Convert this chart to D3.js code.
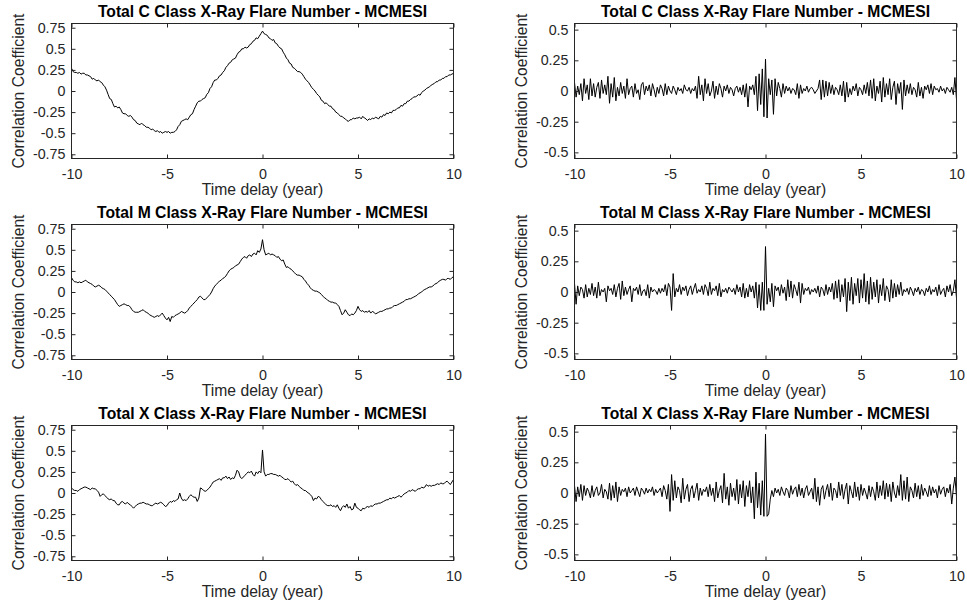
<!DOCTYPE html>
<html><head><meta charset="utf-8">
<script src="https://cdn.jsdelivr.net/npm/d3@7"></script>
<style>body{margin:0;background:#fff}svg{display:block}</style>
</head><body>
<svg id="chart" width="967" height="610"></svg>
<script>
// ---------- data ----------
const lagStartYear = -10;          // first lag (years)
const lagStepYear = 1 / 12;        // monthly lags
const xTicks = [-10, -5, 0, 5, 10];
const yTicksLeft = [-0.75, -0.5, -0.25, 0, 0.25, 0.5, 0.75];
const yTicksRight = [-0.5, -0.25, 0, 0.25, 0.5];
const yDomainLeft = [-0.8, 0.8];
const yDomainRight = [-0.55, 0.55];
const titles = [
  "Total C Class X-Ray Flare Number - MCMESI",
  "Total M Class X-Ray Flare Number - MCMESI",
  "Total X Class X-Ray Flare Number - MCMESI"
];
const xLabel = "Time delay (year)";
const yLabel = "Correlation Coefficient";

// left column (cross-correlation), one value per month from -10 to +10 years
const cLeft = [
 0.27,0.23,0.22,0.22,0.21,0.22,0.20,0.21,0.21,0.19,0.19,0.18,
 0.17,0.14,0.15,0.13,0.12,0.13,0.11,0.10,0.07,0.05,0.01,-0.04,
 -0.09,-0.10,-0.15,-0.19,-0.18,-0.20,-0.19,-0.22,-0.26,-0.27,-0.27,-0.29,
 -0.30,-0.29,-0.31,-0.34,-0.35,-0.38,-0.39,-0.40,-0.38,-0.40,-0.41,-0.43,
 -0.43,-0.44,-0.46,-0.45,-0.47,-0.48,-0.47,-0.49,-0.48,-0.50,-0.49,-0.48,
 -0.49,-0.48,-0.50,-0.49,-0.49,-0.48,-0.46,-0.42,-0.40,-0.36,-0.35,-0.34,
 -0.33,-0.34,-0.31,-0.28,-0.27,-0.22,-0.18,-0.14,-0.12,-0.12,-0.10,-0.09,
 -0.08,-0.04,-0.02,0.03,0.05,0.10,0.13,0.13,0.15,0.18,0.19,0.22,
 0.24,0.28,0.30,0.33,0.34,0.37,0.38,0.39,0.43,0.46,0.47,0.50,
 0.50,0.52,0.51,0.52,0.55,0.56,0.59,0.60,0.63,0.62,0.65,0.68,
 0.71,0.68,0.67,0.66,0.63,0.62,0.60,0.61,0.57,0.56,0.53,0.51,
 0.50,0.46,0.43,0.39,0.37,0.33,0.32,0.28,0.27,0.25,0.23,0.23,
 0.22,0.20,0.17,0.14,0.12,0.10,0.07,0.04,0.02,0.00,-0.03,-0.05,
 -0.07,-0.11,-0.12,-0.15,-0.14,-0.16,-0.18,-0.18,-0.21,-0.22,-0.25,-0.26,
 -0.28,-0.30,-0.30,-0.32,-0.33,-0.35,-0.36,-0.34,-0.34,-0.32,-0.33,-0.32,
 -0.32,-0.31,-0.33,-0.30,-0.32,-0.33,-0.35,-0.33,-0.34,-0.32,-0.33,-0.31,
 -0.32,-0.33,-0.30,-0.31,-0.28,-0.29,-0.26,-0.27,-0.25,-0.26,-0.23,-0.23,
 -0.22,-0.20,-0.20,-0.17,-0.18,-0.15,-0.15,-0.12,-0.12,-0.10,-0.09,-0.07,
 -0.07,-0.06,-0.04,-0.05,-0.02,0.00,0.01,0.03,0.04,0.05,0.07,0.08,
 0.09,0.11,0.11,0.13,0.13,0.15,0.15,0.17,0.17,0.19,0.19,0.20,
 0.21
];
const mLeft = [
 0.17,0.14,0.12,0.12,0.11,0.12,0.11,0.12,0.13,0.14,0.12,0.11,
 0.10,0.09,0.07,0.06,0.07,0.08,0.07,0.05,0.04,0.03,0.01,-0.01,
 -0.03,-0.05,-0.07,-0.09,-0.12,-0.15,-0.17,-0.16,-0.15,-0.14,-0.15,-0.16,
 -0.16,-0.18,-0.21,-0.23,-0.24,-0.24,-0.24,-0.23,-0.22,-0.21,-0.23,-0.24,
 -0.25,-0.27,-0.28,-0.29,-0.30,-0.29,-0.28,-0.29,-0.27,-0.25,-0.28,-0.31,
 -0.33,-0.30,-0.35,-0.29,-0.30,-0.28,-0.27,-0.26,-0.25,-0.23,-0.24,-0.25,
 -0.24,-0.22,-0.19,-0.17,-0.15,-0.13,-0.11,-0.09,-0.06,-0.05,-0.07,-0.09,
 -0.09,-0.07,-0.05,-0.03,0.00,0.04,0.07,0.09,0.11,0.13,0.14,0.16,
 0.17,0.19,0.22,0.25,0.27,0.28,0.29,0.31,0.32,0.33,0.36,0.39,
 0.41,0.42,0.40,0.43,0.44,0.42,0.45,0.46,0.44,0.49,0.47,0.51,
 0.62,0.50,0.44,0.45,0.46,0.44,0.45,0.44,0.43,0.41,0.42,0.39,
 0.37,0.38,0.33,0.29,0.30,0.28,0.27,0.25,0.23,0.21,0.20,0.20,
 0.19,0.18,0.15,0.13,0.10,0.08,0.05,0.03,0.02,0.01,0.01,0.00,
 -0.01,-0.03,-0.05,-0.07,-0.08,-0.10,-0.11,-0.12,-0.12,-0.13,-0.13,-0.15,
 -0.17,-0.22,-0.27,-0.25,-0.21,-0.24,-0.27,-0.28,-0.26,-0.27,-0.25,-0.22,
 -0.17,-0.21,-0.23,-0.22,-0.24,-0.23,-0.24,-0.22,-0.25,-0.23,-0.24,-0.26,
 -0.25,-0.24,-0.23,-0.23,-0.22,-0.21,-0.20,-0.20,-0.19,-0.19,-0.17,-0.16,
 -0.16,-0.15,-0.14,-0.13,-0.12,-0.11,-0.09,-0.09,-0.08,-0.08,-0.07,-0.06,
 -0.05,-0.04,-0.02,-0.01,0.00,0.02,0.03,0.04,0.05,0.06,0.06,0.07,
 0.09,0.10,0.11,0.13,0.14,0.15,0.15,0.14,0.16,0.16,0.15,0.17,
 0.18
];
const xLeft = [
 0.06,0.04,0.03,0.03,0.02,0.04,0.05,0.06,0.07,0.07,0.06,0.05,
 0.04,0.06,0.05,0.05,0.03,0.01,-0.04,-0.02,-0.01,-0.03,-0.05,-0.07,
 -0.08,-0.07,-0.09,-0.09,-0.12,-0.14,-0.14,-0.11,-0.10,-0.12,-0.13,-0.11,
 -0.13,-0.14,-0.16,-0.18,-0.16,-0.14,-0.13,-0.12,-0.12,-0.11,-0.12,-0.13,
 -0.13,-0.14,-0.15,-0.15,-0.13,-0.12,-0.13,-0.12,-0.11,-0.12,-0.14,-0.16,
 -0.15,-0.12,-0.10,-0.11,-0.09,-0.10,-0.08,-0.07,0.00,-0.06,-0.09,-0.08,
 -0.09,-0.07,-0.04,-0.02,-0.04,-0.05,-0.05,-0.10,-0.06,0.06,0.05,0.03,
 0.02,0.03,0.05,0.07,0.10,0.13,0.14,0.15,0.16,0.17,0.15,0.18,
 0.18,0.20,0.17,0.19,0.16,0.18,0.17,0.21,0.27,0.25,0.19,0.17,
 0.19,0.21,0.23,0.25,0.24,0.26,0.22,0.20,0.25,0.23,0.26,0.24,
 0.51,0.25,0.20,0.22,0.22,0.23,0.23,0.22,0.22,0.21,0.20,0.21,
 0.19,0.18,0.16,0.16,0.17,0.15,0.13,0.14,0.11,0.09,0.10,0.08,
 0.06,0.05,0.03,0.03,0.01,0.00,-0.02,-0.04,-0.09,-0.06,-0.07,-0.04,
 -0.05,-0.08,-0.10,-0.12,-0.14,-0.15,-0.15,-0.14,-0.16,-0.15,-0.17,-0.14,
 -0.18,-0.21,-0.17,-0.15,-0.17,-0.13,-0.18,-0.16,-0.20,-0.19,-0.12,-0.17,
 -0.18,-0.20,-0.21,-0.18,-0.19,-0.17,-0.16,-0.17,-0.15,-0.16,-0.14,-0.13,
 -0.13,-0.12,-0.12,-0.11,-0.10,-0.09,-0.08,-0.08,-0.06,-0.07,-0.05,-0.06,
 -0.05,-0.04,-0.03,-0.05,-0.03,-0.01,0.00,0.01,0.03,0.02,0.04,0.03,
 0.02,0.04,0.05,0.05,0.07,0.06,0.07,0.10,0.08,0.09,0.08,0.09,
 0.09,0.10,0.11,0.10,0.12,0.11,0.11,0.13,0.14,0.12,0.10,0.13,
 0.16
];
// right column (noisy), one value per month from -10 to +10 years
const cRight = [
 0.07,-0.05,0.04,-0.03,0.06,-0.08,0.10,-0.02,0.05,-0.07,0.10,-0.04,
 0.06,-0.05,0.03,0.07,-0.06,0.09,-0.02,0.05,-0.03,0.12,-0.10,0.06,
 -0.05,0.11,-0.08,0.03,-0.04,0.07,-0.02,0.04,-0.06,0.10,-0.03,0.02,
 0.04,-0.05,0.06,-0.02,0.01,-0.07,0.05,0.07,-0.03,0.04,0.00,0.05,
 -0.04,0.06,0.01,-0.05,0.03,-0.02,0.05,0.02,-0.04,0.06,-0.03,0.04,
 0.00,-0.02,0.04,0.01,-0.03,0.03,0.00,0.02,-0.02,0.05,0.01,0.00,
 0.03,-0.02,0.02,0.00,0.04,-0.06,0.12,-0.03,0.05,-0.08,0.10,-0.02,
 0.06,-0.04,0.00,0.08,-0.06,0.04,-0.03,0.06,0.02,-0.05,0.04,0.00,
 0.05,-0.02,0.03,0.01,-0.04,0.02,0.04,-0.01,0.03,-0.03,0.05,-0.05,
 0.06,-0.13,0.04,0.01,0.05,-0.03,0.12,-0.16,0.14,-0.11,0.18,-0.21,
 0.26,-0.22,0.10,-0.03,0.09,-0.19,0.10,-0.04,0.07,0.02,-0.05,0.06,
 -0.02,0.04,0.00,0.03,-0.02,0.02,0.01,-0.03,0.06,-0.06,0.05,-0.02,
 0.02,0.00,0.04,-0.01,0.02,0.03,0.01,-0.02,0.00,0.02,0.09,-0.07,
 0.09,-0.05,0.08,-0.04,0.07,-0.02,0.05,-0.03,0.03,0.01,-0.03,0.05,
 -0.04,0.08,-0.09,0.07,-0.05,0.02,-0.03,0.04,0.00,0.06,-0.04,0.03,
 0.01,-0.03,0.05,-0.02,0.07,-0.04,0.09,-0.06,0.10,-0.08,0.04,-0.02,
 0.08,-0.09,0.11,-0.05,0.06,-0.03,0.10,-0.07,0.03,0.08,-0.11,0.06,
 -0.02,0.07,-0.15,0.09,-0.04,0.05,-0.02,0.06,-0.03,0.03,0.01,-0.05,
 0.07,-0.04,0.03,-0.06,0.04,0.01,0.05,-0.02,0.06,-0.03,0.04,0.01,
 0.02,-0.01,0.04,0.00,0.02,-0.02,0.03,0.01,-0.01,0.03,-0.03,0.11,
 -0.07
];
const mRight = [
 0.07,-0.10,0.05,-0.03,0.04,0.02,-0.05,0.06,-0.04,0.03,-0.02,0.07,
 -0.03,0.04,-0.05,0.08,-0.03,0.02,0.00,0.03,-0.08,0.05,0.01,0.03,
 -0.02,0.06,-0.04,0.03,0.07,-0.06,0.09,-0.03,0.04,-0.02,0.02,0.05,
 -0.08,0.03,0.01,0.04,-0.02,0.06,-0.03,0.01,0.02,-0.03,0.06,-0.05,
 0.04,0.00,0.02,0.01,-0.02,0.03,-0.01,0.03,0.00,0.06,-0.03,0.07,
 0.04,-0.15,0.15,-0.04,0.03,0.00,0.06,-0.02,0.04,0.01,0.05,-0.03,
 0.02,0.05,-0.02,0.03,0.07,-0.01,0.02,0.00,0.05,-0.02,0.06,0.03,
 -0.03,0.08,-0.02,0.03,0.01,0.05,-0.03,0.07,-0.04,0.02,0.00,0.03,
 -0.01,0.04,0.02,0.00,0.03,-0.02,0.06,0.00,0.04,-0.04,0.07,-0.05,
 0.03,-0.04,0.06,0.00,0.05,-0.05,0.08,-0.13,0.06,-0.15,0.08,-0.15,
 0.37,-0.10,0.03,-0.08,0.07,-0.12,0.05,0.01,0.04,-0.03,0.06,-0.01,
 0.04,-0.07,0.10,-0.04,0.09,-0.05,0.06,0.02,-0.03,0.08,-0.09,0.07,
 -0.02,0.03,0.01,0.04,-0.02,0.02,0.00,0.03,-0.01,0.05,-0.04,0.04,
 0.02,-0.03,0.06,-0.02,0.04,0.00,0.07,-0.06,0.09,-0.05,0.10,-0.08,
 0.06,-0.04,0.11,-0.16,0.08,-0.07,0.12,-0.10,0.07,-0.03,0.11,-0.09,
 0.10,-0.05,0.15,-0.08,0.09,-0.10,0.12,-0.06,0.08,-0.04,0.10,-0.09,
 0.06,-0.03,0.11,-0.07,0.05,0.02,-0.08,0.10,-0.05,0.07,-0.04,0.06,
 -0.02,0.08,-0.03,0.02,0.00,0.03,-0.02,0.04,0.01,-0.03,0.03,0.00,
 0.04,-0.02,0.02,0.01,-0.03,0.03,0.00,0.05,-0.02,0.02,0.00,0.04,
 -0.03,0.06,-0.02,0.01,0.03,-0.04,0.05,0.00,0.06,-0.03,0.01,0.10,
 -0.05
];
const xRight = [
 0.06,-0.07,0.05,-0.03,0.07,-0.06,0.06,-0.02,0.04,0.01,-0.04,0.06,
 -0.03,0.02,0.05,-0.02,0.00,0.07,-0.04,0.03,0.01,-0.05,0.08,-0.06,
 0.06,-0.04,0.09,-0.07,0.05,-0.02,0.03,0.01,0.04,-0.03,0.05,0.00,
 0.02,0.04,-0.02,0.05,0.01,-0.03,0.04,0.02,-0.01,0.04,0.00,0.03,
 0.01,0.05,-0.02,0.03,0.00,0.02,0.04,-0.03,0.06,0.02,-0.05,0.07,
 -0.15,0.15,-0.06,0.10,-0.04,0.05,0.02,-0.08,0.12,-0.05,0.03,0.07,
 -0.07,0.03,0.06,-0.04,0.02,0.08,-0.06,0.04,-0.02,0.03,0.01,0.05,
 -0.03,0.07,-0.02,0.04,-0.07,0.09,-0.04,0.02,0.06,-0.08,0.16,-0.05,
 0.05,-0.10,0.08,-0.03,0.04,-0.06,0.11,-0.09,0.07,-0.04,0.10,-0.11,
 0.06,-0.03,0.10,-0.08,0.05,-0.21,0.17,-0.12,0.08,-0.18,0.10,-0.19,
 0.48,-0.19,-0.17,-0.05,0.02,-0.03,0.04,0.00,0.03,-0.02,0.05,0.01,
 -0.02,0.04,0.02,-0.04,0.06,-0.01,0.03,0.05,-0.03,0.07,-0.02,0.04,
 -0.04,0.03,0.06,-0.02,0.01,0.04,-0.05,0.12,-0.07,0.05,-0.10,0.03,
 0.06,-0.05,0.02,0.07,-0.03,0.08,-0.06,0.04,0.02,-0.04,0.09,-0.02,
 0.07,-0.05,0.03,0.08,-0.09,0.06,0.01,-0.04,0.09,-0.03,0.05,-0.06,
 0.07,-0.02,0.04,0.00,-0.05,0.06,-0.03,0.05,0.01,-0.06,0.09,-0.04,
 0.06,-0.02,0.10,-0.05,0.08,-0.03,0.07,-0.07,0.09,0.00,-0.04,0.06,
 -0.02,0.15,-0.06,0.10,-0.05,0.13,-0.07,0.05,0.02,-0.04,0.08,-0.03,
 0.06,-0.05,0.07,-0.02,0.04,0.01,-0.03,0.06,-0.02,0.05,0.00,0.03,
 -0.04,0.06,-0.01,0.03,0.05,-0.03,0.04,0.00,0.07,-0.09,0.04,0.13,
 -0.03
];

// ---------- layout ----------
const colX = [[71.5, 453.5], [574.5, 956.5]];
const rowTop = [23.5, 224.5, 425.5];
const plotH = 135;
const axisColor = "#262626";
const fontFam = "'Liberation Sans', Arial, Helvetica, sans-serif";

const panels = [
  {row:0, col:0, values:cLeft,  dom:yDomainLeft,  ticks:yTicksLeft,  title:titles[0]},
  {row:0, col:1, values:cRight, dom:yDomainRight, ticks:yTicksRight, title:titles[0]},
  {row:1, col:0, values:mLeft,  dom:yDomainLeft,  ticks:yTicksLeft,  title:titles[1]},
  {row:1, col:1, values:mRight, dom:yDomainRight, ticks:yTicksRight, title:titles[1]},
  {row:2, col:0, values:xLeft,  dom:yDomainLeft,  ticks:yTicksLeft,  title:titles[2]},
  {row:2, col:1, values:xRight, dom:yDomainRight, ticks:yTicksRight, title:titles[2]}
];

const svg = d3.select("#chart");
svg.append("rect").attr("width", 967).attr("height", 610).attr("fill", "#fff");

const fmt = d => String(d);

panels.forEach(p => {
  const [x0, x1] = colX[p.col];
  const y0 = rowTop[p.row], y1 = y0 + plotH;
  const x = d3.scaleLinear().domain([-10, 10]).range([x0, x1]);
  const y = d3.scaleLinear().domain(p.dom).range([y1, y0]);
  const g = svg.append("g");

  // data line
  const pts = p.values.map((v, i) => [lagStartYear + i * lagStepYear, v]);
  g.append("path").datum(pts)
    .attr("fill", "none").attr("stroke", "#000").attr("stroke-width", 1)
    .attr("stroke-linejoin", "round")
    .attr("d", d3.line().x(d => x(d[0])).y(d => y(d[1])));

  // axes (ticks inward)
  const styleAxis = sel => {
    sel.select(".domain").remove();
    sel.selectAll(".tick line").attr("stroke", axisColor);
    sel.selectAll(".tick text").attr("fill", axisColor)
      .style("font-family", fontFam).style("font-size", "14.3px");
  };
  g.append("g").attr("transform", `translate(0,${y1})`)
    .call(d3.axisBottom(x).tickValues(xTicks).tickSize(-4).tickPadding(10).tickFormat(fmt))
    .call(styleAxis);
  g.append("g").attr("transform", `translate(0,${y0})`)
    .call(d3.axisTop(x).tickValues(xTicks).tickSize(-4).tickFormat(""))
    .call(styleAxis);
  g.append("g").attr("transform", `translate(${x0},0)`)
    .call(d3.axisLeft(y).tickValues(p.ticks).tickSize(-4).tickPadding(6).tickFormat(fmt))
    .call(styleAxis);
  g.append("g").attr("transform", `translate(${x1},0)`)
    .call(d3.axisRight(y).tickValues(p.ticks).tickSize(-4).tickFormat(""))
    .call(styleAxis);

  // box
  g.append("rect").attr("x", x0).attr("y", y0).attr("width", x1 - x0).attr("height", plotH)
    .attr("fill", "none").attr("stroke", axisColor).attr("stroke-width", 1);

  // title
  g.append("text").attr("x", (x0 + x1) / 2).attr("y", y0 - 6.5)
    .attr("text-anchor", "middle").style("font-family", fontFam)
    .style("font-size", "15.7px").style("font-weight", "bold").attr("fill", "#000")
    .text(p.title);
  // x label
  g.append("text").attr("x", (x0 + x1) / 2).attr("y", y1 + 36.5)
    .attr("text-anchor", "middle").style("font-family", fontFam)
    .style("font-size", "15.7px").attr("fill", axisColor).text(xLabel);
  // y label
  g.append("text")
    .attr("transform", `translate(${x0 - 47.5},${(y0 + y1) / 2}) rotate(-90)`)
    .attr("text-anchor", "middle").style("font-family", fontFam)
    .style("font-size", "15.7px").attr("fill", axisColor).text(yLabel);
});
</script>
</body></html>
